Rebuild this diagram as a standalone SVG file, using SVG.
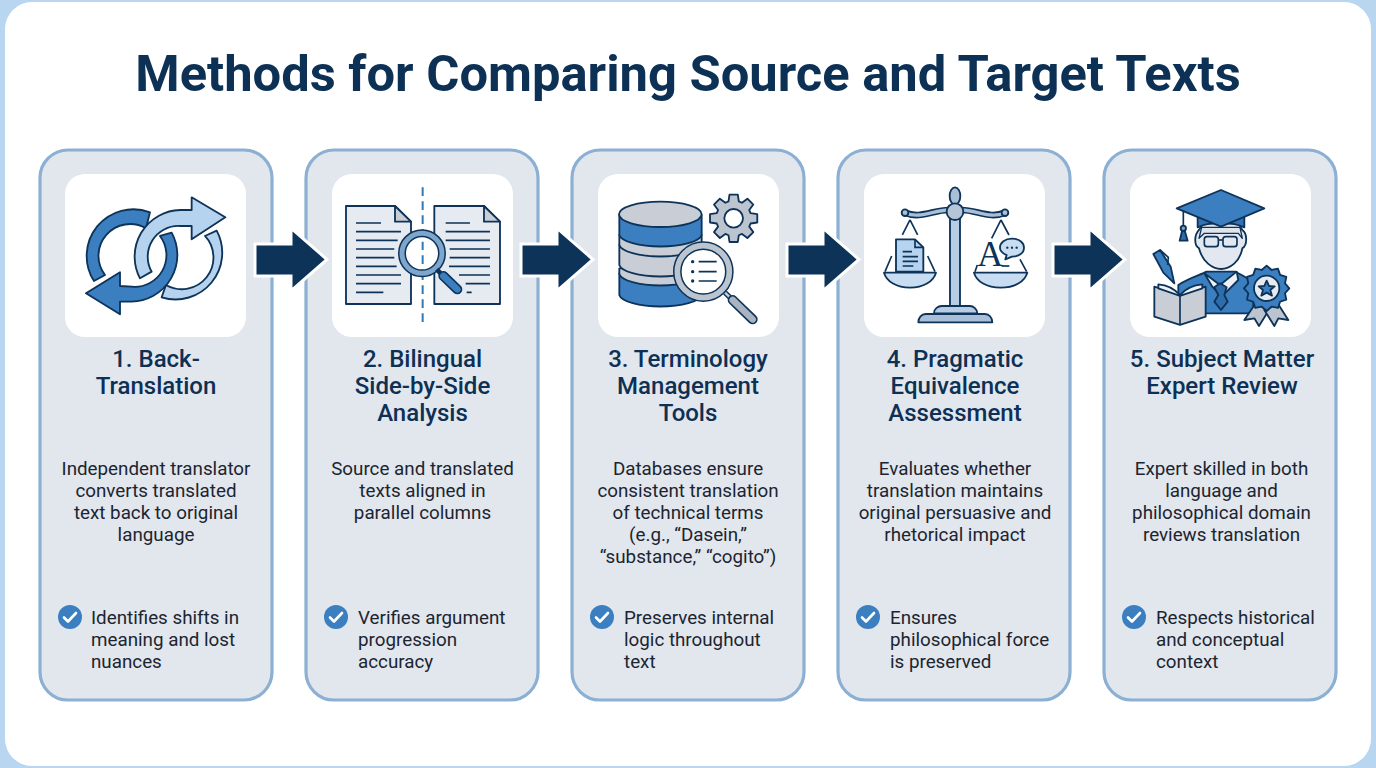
<svg xmlns="http://www.w3.org/2000/svg" width="1376" height="768" viewBox="0 0 1376 768">
<style>
.card{fill:#e2e6ed;stroke:#8bb0d3;stroke-width:3.2}
.box{fill:#fff}
.t{font-family:Roboto,"Liberation Sans",sans-serif}
.title{font-size:50.7px;font-weight:700;fill:#0d3055;text-anchor:middle}
.h{font-size:24px;font-weight:500;fill:#0d3055;text-anchor:middle}
.d{font-size:18.8px;fill:#1b2530;text-anchor:middle}
.b{font-size:18.8px;fill:#1b2530}
.o{stroke:#0d3358;stroke-width:5.5;stroke-linejoin:round}
.dk{fill:#3b7fc0}.lt{fill:#b5d2ee}.gr{fill:#c9ced6}.pa{fill:#e6ebf2}
.ln{stroke:#0d3358;stroke-width:5;fill:none}
.chk{fill:none;stroke:#fff;stroke-width:2.6;stroke-linecap:round;stroke-linejoin:round}
.ar{fill:#0d3358;stroke:#fff;stroke-width:3}
</style>
<defs>
<g id="check"><circle r="12" fill="#3b7fc0"/><path class="chk" d="M-6,0.5 L-2,4.5 L6,-4"/></g>
</defs>
<rect width="1376" height="768" fill="#b9d6f0"/>
<rect x="5" y="2" width="1366" height="764" rx="27" fill="#fff"/>
<text class="t title" x="688" y="91">Methods for Comparing Source and Target Texts</text>

<g id="node-1">
<rect class="card" x="40" y="150" width="232" height="550" rx="28"/>
<rect class="box" x="65" y="174" width="181" height="163" rx="20"/>
<g transform="translate(40,160) scale(.3333)">
<path class="o dk" d="M162,363 A140 140 0 0 1 330,157 L318,205 A95 95 0 0 0 195,345 Z"/>
<path class="o lt" d="M530,212 A140 140 0 0 1 365,412 L378,375 A95 95 0 0 0 495,228 Z"/>
<path class="o lt" d="M300,355 A140 140 0 0 1 420,150 L455,150 L455,112 L556,172 L455,238 L455,198 L420,198 A92 92 0 0 0 335,335 Z"/>
<path class="o dk" d="M395,218 A140 140 0 0 1 275,425 L240,425 L240,463 L138,400 L240,337 L240,378 L275,380 A95 95 0 0 0 360,228 Z"/>
</g>
<text class="t h"><tspan x="156" y="367">1. Back-</tspan><tspan x="156" y="394">Translation</tspan></text>
<text class="t d"><tspan x="156" y="475">Independent translator</tspan><tspan x="156" y="497">converts translated</tspan><tspan x="156" y="519">text back to original</tspan><tspan x="156" y="541">language</tspan></text>
<use href="#check" x="70" y="617"/>
<text class="t b"><tspan x="91" y="624">Identifies shifts in</tspan><tspan x="91" y="646">meaning and lost</tspan><tspan x="91" y="668">nuances</tspan></text>
</g>

<g id="node-2">
<rect class="card" x="306" y="150" width="232" height="550" rx="28"/>
<rect class="box" x="332" y="174" width="181" height="163" rx="20"/>
<g transform="translate(320,170) scale(.3333)">
<path d="M308,52 V458" stroke="#2e7ab8" stroke-width="6" stroke-dasharray="26 16" fill="none"/>
<path class="o pa" d="M78,108 H225 L273,155 V402 H78Z"/>
<path class="o gr" d="M225,108 L273,155 H225Z"/>
<path class="o pa" d="M343,108 H492 L540,155 V402 H343Z"/>
<path class="o gr" d="M492,108 L540,155 H492Z"/>
<path class="ln" d="M108,159H183M108,185H243M108,211H233M108,237H223M108,263H223M108,289H230M108,315H243M108,341H243M108,367H190M377,159H450M377,185H510M377,211H510M389,237H510M389,263H510M387,289H510M417,315H510M437,341H510M440,367H455"/>
<circle cx="306" cy="250" r="60" fill="#fff" stroke="#0d3358" stroke-width="24"/>
<circle cx="306" cy="250" r="60" fill="none" stroke="#7ea5cc" stroke-width="15"/>
<path d="M308,215 V240 M308,256 V282" stroke="#2e7ab8" stroke-width="6" fill="none"/>
<path d="M350,298 L370,318" stroke="#0d3358" stroke-width="14"/>
<path d="M370,318 L412,358" stroke="#0d3358" stroke-width="30" stroke-linecap="round"/>
<path d="M370,318 L412,358" stroke="#3b7fc0" stroke-width="20" stroke-linecap="round"/>
</g>
<text class="t h"><tspan x="422.500" y="367">2. Bilingual</tspan><tspan x="422.500" y="394">Side-by-Side</tspan><tspan x="422.500" y="421">Analysis</tspan></text>
<text class="t d"><tspan x="422.500" y="475">Source and translated</tspan><tspan x="422.500" y="497">texts aligned in</tspan><tspan x="422.500" y="519">parallel columns</tspan></text>
<use href="#check" x="336" y="617"/>
<text class="t b"><tspan x="358" y="624">Verifies argument</tspan><tspan x="358" y="646">progression</tspan><tspan x="358" y="668">accuracy</tspan></text>
</g>

<g id="node-3">
<rect class="card" x="572" y="150" width="232" height="550" rx="28"/>
<rect class="box" x="598" y="174" width="181" height="163" rx="20"/>
<g transform="translate(590,170) scale(.3333)">
<path class="o dk" d="M88,310 V375 A124 38 0 0 0 335,375 V310Z"/>
<path class="o gr" d="M88,295 V312 A124 38 0 0 0 335,312 V295Z"/>
<path class="o gr" d="M88,225 V285 A124 38 0 0 0 335,285 V225Z"/>
<path class="o gr" d="M88,195 V225 A124 38 0 0 0 335,225 V195Z"/>
<path class="o dk" d="M88,135 V195 A124 38 0 0 0 335,195 V135Z"/>
<ellipse class="o gr" cx="211" cy="133" rx="124" ry="38"/>
<polygon class="o" transform="translate(431,145)" fill="#bcc4cf" points="50.700,-15.500 70.900,-12.500 70.900,12.500 50.700,15.500 46.800,24.900 59,41.300 41.300,59 24.900,46.800 15.500,50.700 12.500,70.900 -12.500,70.900 -15.500,50.700 -24.900,46.800 -41.300,59 -59,41.300 -46.800,24.900 -50.700,15.500 -70.900,12.500 -70.900,-12.500 -50.700,-15.500 -46.800,-24.900 -59,-41.300 -41.300,-59 -24.900,-46.800 -15.500,-50.700 -12.500,-70.900 12.500,-70.900 15.500,-50.700 24.900,-46.800 41.300,-59 59,-41.300 46.800,-24.900"/>
<circle class="o" cx="431" cy="145" r="28" fill="#fff"/>
<path d="M405,368 L430,392" stroke="#0d3358" stroke-width="16"/>
<path d="M405,368 L430,392" stroke="#c9ced6" stroke-width="7"/>
<path d="M428,390 L488,448" stroke="#0d3358" stroke-width="30" stroke-linecap="round"/>
<path d="M428,390 L488,448" stroke="#aab4c1" stroke-width="20" stroke-linecap="round"/>
<circle cx="340" cy="305" r="78" fill="#fff" stroke="#0d3358" stroke-width="26"/>
<circle cx="340" cy="305" r="78" fill="none" stroke="#bcc4cf" stroke-width="17"/>
<path class="ln" d="M326,275H380M326,305H380M326,333H380"/>
<circle cx="308" cy="275" r="5" fill="#0d3358"/><circle cx="308" cy="305" r="5" fill="#0d3358"/><circle cx="308" cy="333" r="5" fill="#0d3358"/>
</g>
<text class="t h"><tspan x="688" y="367">3. Terminology</tspan><tspan x="688" y="394">Management</tspan><tspan x="688" y="421">Tools</tspan></text>
<text class="t d"><tspan x="688" y="475">Databases ensure</tspan><tspan x="688" y="497">consistent translation</tspan><tspan x="688" y="519">of technical terms</tspan><tspan x="688" y="541">(e.g., “Dasein,”</tspan><tspan x="688" y="563">“substance,” “cogito”)</tspan></text>
<use href="#check" x="602" y="617"/>
<text class="t b"><tspan x="624" y="624">Preserves internal</tspan><tspan x="624" y="646">logic throughout</tspan><tspan x="624" y="668">text</tspan></text>
</g>

<g id="node-4">
<rect class="card" x="838" y="150" width="232" height="550" rx="28"/>
<rect class="box" x="864" y="174" width="181" height="163" rx="20"/>
<g transform="translate(860,170) scale(.3333)">
<ellipse class="o" cx="285" cy="78" rx="16" ry="26" fill="#a9bfd8"/>
<path class="o" d="M270,145 H300 V410 H270Z" fill="#b7cde6"/>
<path d="M135,128 C180,148 220,120 265,120 M435,128 C390,148 350,120 305,120" stroke="#0d3358" stroke-width="20" fill="none"/>
<path d="M135,128 C180,148 220,120 265,120 M435,128 C390,148 350,120 305,120" stroke="#a9bfd8" stroke-width="10" fill="none"/>
<circle class="o" cx="135" cy="128" r="10" fill="#a9bfd8"/><circle class="o" cx="435" cy="128" r="10" fill="#a9bfd8"/>
<circle class="o" cx="285" cy="125" r="25" fill="#b5c4d6"/>
<path class="ln" stroke-width="6" d="M150,150 L127,195 M150,150 L173,195 M423,150 L395,205 M423,150 L447,195 M95,258 L75,305 M203,258 L225,305 M480,268 L500,305 M352,285 L345,305"/>
<path class="o" d="M72,308 H228 C220,335 190,353 150,353 C110,353 80,335 72,308Z" fill="#c9ddf2"/>
<path class="o" d="M342,308 H502 C494,335 464,353 422,353 C380,353 350,335 342,308Z" fill="#c9ddf2"/>
<path class="o" d="M108,208 H165 L190,232 V305 H108Z" fill="#b6d3f0"/>
<path class="ln" d="M165,208 V232 H190 M128,245H156M128,260H174M128,274H174M128,288H160"/>
<text x="352" y="288" font-family="'Liberation Serif',serif" font-size="108" fill="#0d3358">A</text>
<path class="ln" d="M425,288H448"/>
<path class="o" d="M456,206 C480,206 492,220 492,233 C492,250 475,260 456,260 L436,268 L440,255 C428,250 420,243 420,233 C420,218 435,206 456,206Z" fill="#c9ddf2"/>
<circle cx="442" cy="233" r="3.500" fill="#0d3358"/><circle cx="456" cy="233" r="3.500" fill="#0d3358"/><circle cx="470" cy="233" r="3.500" fill="#0d3358"/>
<path class="o" d="M222,430 C222,416 235,408 245,408 H330 C340,408 352,418 352,430Z" fill="#b7cde6"/>
<path class="o" d="M175,457 C175,442 185,432 197,432 H375 C388,432 397,444 397,457Z" fill="#a9bfd8"/>
</g>
<text class="t h"><tspan x="955" y="367">4. Pragmatic</tspan><tspan x="955" y="394">Equivalence</tspan><tspan x="955" y="421">Assessment</tspan></text>
<text class="t d"><tspan x="955" y="475">Evaluates whether</tspan><tspan x="955" y="497">translation maintains</tspan><tspan x="955" y="519">original persuasive and</tspan><tspan x="955" y="541">rhetorical impact</tspan></text>
<use href="#check" x="868" y="617"/>
<text class="t b"><tspan x="890" y="624">Ensures</tspan><tspan x="890" y="646">philosophical force</tspan><tspan x="890" y="668">is preserved</tspan></text>
</g>

<g id="node-5">
<rect class="card" x="1104" y="150" width="232" height="550" rx="28"/>
<rect class="box" x="1130" y="174" width="181" height="163" rx="20"/>
<g transform="translate(1125,170) scale(.3333)">
<path class="o dk" d="M160,345 C190,325 225,315 245,305 H330 C350,315 365,320 385,340 V430 H160Z"/>
<path class="o" d="M238,310 L285,345 L335,305 L340,330 L290,380 L262,350 Z" fill="#eef2f7"/>
<path class="o" d="M285,340 L305,352 L298,375 L308,395 L288,420 L268,395 L280,375 L268,352Z" fill="#2f6cab"/>
<path class="o" d="M222,180 C208,195 206,225 222,235 C232,275 262,297 288,297 C315,297 345,275 352,235 C368,225 367,190 352,180 L340,160 H235Z" fill="#e3e8f0"/>
<path d="M222,205 L230,172 L345,172 L352,205 L340,190 H238Z" fill="#dfe5ed" stroke="#0d3358" stroke-width="4" stroke-linejoin="round"/>
<rect class="ln" x="238" y="200" width="42" height="30" rx="8"/><rect class="ln" x="294" y="200" width="42" height="30" rx="8"/><path class="ln" d="M280,210H294"/>
<path class="o" d="M218,125 V172 C250,155 325,155 358,172 V125Z" fill="#3273b3"/>
<path class="o dk" d="M155,115 L288,60 L418,115 L288,170Z"/>
<path class="ln" d="M175,122 V170"/>
<path class="o" d="M175,168 L188,212 H164Z" fill="#2f6cab"/>
<circle class="o" cx="175" cy="175" r="8" fill="#7ea5cc"/>
<path class="o" d="M85,252 L105,240 L137,290 L148,340 L115,308Z" fill="#3b7fc0"/>
<path class="ln" d="M105,240 L130,262 L128,285"/>
<path class="o" d="M88,350 L165,375 L242,350 V440 L165,465 L88,440Z" fill="#c9ced6"/>
<path class="o" d="M100,343 C125,345 150,358 165,375 C180,358 205,345 232,343 L232,355 L165,378 L100,355Z" fill="#eef2f7"/>
<path class="ln" d="M165,375 V465"/>
<path class="o" d="M395,395 L358,450 L388,445 L402,468 L432,420Z" fill="#bcc4cf"/>
<path class="o" d="M455,395 L490,450 L460,445 L448,468 L418,420Z" fill="#bcc4cf"/>
<polygon class="o dk" transform="translate(425,355)" points="68,0 55.100,14.800 58.900,34 40.300,40.300 34,58.900 14.800,55.100 0,68 -14.800,55.100 -34,58.900 -40.300,40.300 -58.900,34 -55.100,14.800 -68,0 -55.100,-14.800 -58.900,-34 -40.300,-40.300 -34,-58.900 -14.800,-55.100 0,-68 14.800,-55.100 34,-58.900 40.300,-40.300 58.900,-34 55.100,-14.800"/>
<circle class="o" cx="425" cy="355" r="38" fill="#e6ebf2"/>
<path class="o" d="M425,332 L432,348 L449,349 L436,360 L441,377 L425,368 L409,377 L414,360 L401,349 L418,348Z" fill="#3b7fc0"/>
</g>
<text class="t h"><tspan x="1222" y="367">5. Subject Matter</tspan><tspan x="1222" y="394">Expert Review</tspan></text>
<text class="t d"><tspan x="1221.500" y="475">Expert skilled in both</tspan><tspan x="1221.500" y="497">language and</tspan><tspan x="1221.500" y="519">philosophical domain</tspan><tspan x="1221.500" y="541">reviews translation</tspan></text>
<use href="#check" x="1134" y="617"/>
<text class="t b"><tspan x="1156" y="624">Respects historical</tspan><tspan x="1156" y="646">and conceptual</tspan><tspan x="1156" y="668">context</tspan></text>
</g>

<g id="connectors">
<path class="ar" d="M255,244 H291 V228 L327,259.500 L291,291 V276 H255Z"/>
<path class="ar" d="M521,244 H557 V228 L593,259.500 L557,291 V276 H521Z"/>
<path class="ar" d="M787,244 H823 V228 L859,259.500 L823,291 V276 H787Z"/>
<path class="ar" d="M1053,244 H1089 V228 L1125,259.500 L1089,291 V276 H1053Z"/>
</g>
</svg>
